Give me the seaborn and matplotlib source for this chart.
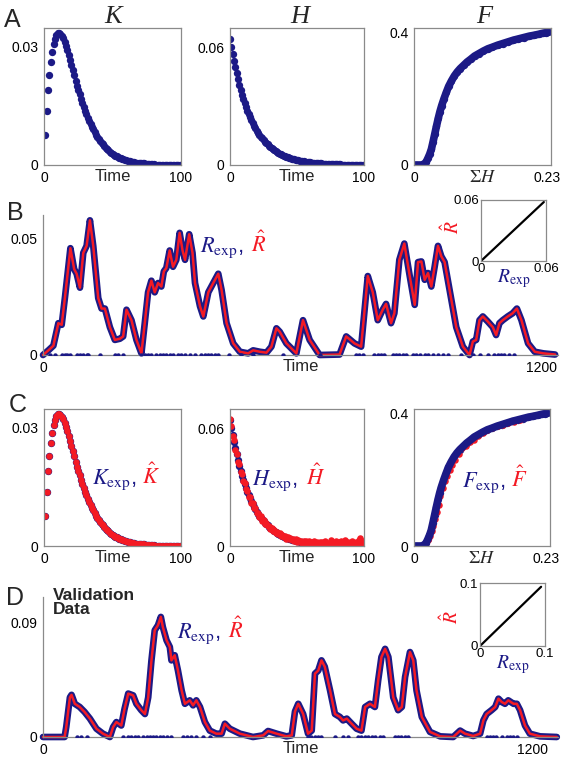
import matplotlib
matplotlib.use("Agg")
import matplotlib.pyplot as plt
import numpy as np
import pandas as pd
import seaborn as sns

# ---- data ----
t_k = list(range(1, 101))
k_vals = [
    .0076, .0138, .0190, .0229, .0261, .0286, .0306, .0320, .0329, .0334,
    .0335, .0333, .0328, .0321, .0312, .0302, .0291, .0279, .0266, .0253,
    .0240, .0227, .0214, .0201, .0190, .0179, .0168, .0158, .0148, .0138,
    .0129, .0120, .0112, .0104, .0097, .0090, .0083, .0077, .0071, .0066,
    .0061, .0056, .0052, .0048, .0044, .0040, .0037, .0034, .0031, .0029,
    .0026, .0024, .0022, .0020, .0018, .0017, .0015, .0014, .0013, .0012,
    .0011, .0010, .0009, .0008, .0008, .0007, .0006, .0006, .0005, .0005,
    .0004, .0004, .0004, .0003, .0003, .0003, .0002, .0002, .0002, .0002,
    .0001, .0001, .0001, .0001, .0001, .0001, .0001, .0001, .0001, .0001,
    .0001, .0001, .0001, .0001, .0001, .0000, .0000, .0000, .0000, .0000,
]

t_h = list(range(0, 101))
h_vals = [
    .0646, .0605, .0566, .0532, .0499, .0468, .0438, .0410, .0384, .0360,
    .0337, .0316, .0296, .0277, .0260, .0243, .0228, .0214, .0200, .0188,
    .0176, .0165, .0154, .0145, .0136, .0127, .0119, .0112, .0105, .0098,
    .0092, .0086, .0081, .0076, .0071, .0066, .0062, .0058, .0055, .0051,
    .0048, .0045, .0042, .0040, .0037, .0035, .0033, .0031, .0029, .0027,
    .0025, .0024, .0022, .0021, .0019, .0018, .0017, .0016, .0015, .0014,
    .0013, .0012, .0011, .0011, .0010, .0009, .0009, .0008, .0008, .0007,
    .0007, .0006, .0006, .0005, .0005, .0005, .0004, .0004, .0004, .0003,
    .0003, .0003, .0003, .0002, .0002, .0002, .0002, .0002, .0002, .0001,
    .0001, .0001, .0001, .0001, .0001, .0001, .0001, .0001, .0001, .0001,
    .0001,
]
h_hat = [
    .0650, .0612, .0560, .0540, .0490, .0472, .0430, .0418, .0378, .0368,
    .0330, .0322, .0290, .0283, .0252, .0248, .0222, .0219, .0195, .0193,
    .0170, .0168, .0150, .0151, .0130, .0132, .0110, .0117, .0100, .0103,
    .0088, .0092, .0078, .0084, .0068, .0074, .0060, .0064, .0050, .0058,
    .0046, .0052, .0038, .0047, .0036, .0040, .0030, .0036, .0026, .0034,
    .0022, .0030, .0020, .0028, .0016, .0026, .0014, .0024, .0012, .0025,
    .0010, .0022, .0008, .0024, .0014, .0020, .0006, .0022, .0010, .0018,
    .0008, .0024, .0004, .0016, .0010, .0030, .0004, .0020, .0008, .0026,
    .0006, .0018, .0002, .0028, .0010, .0016, .0030, .0004, .0020, .0012,
    .0008, .0026, .0014, .0004, .0022, .0010, .0030, .0040, .0016, .0024,
    .0008,
]

sum_h = [0, .003, .006, .009, .012, .015, .018, .021, .024, .027, .030, .033,
         .036, .039, .042, .045, .048, .052, .056, .060, .065, .070, .075, .080,
         .086, .092, .098, .105, .112, .120, .128, .136, .145, .154, .163, .172,
         .181, .190, .199, .208, .216, .223, .229, .233]
f_vals = [0, 0, 0, 0, 0, .001, .004, .009, .020, .032, .047, .070,
          .094, .118, .141, .162, .180, .201, .220, .238, .255, .270, .282, .292,
          .302, .312, .320, .330, .337, .345, .352, .357, .363, .368, .373, .378,
          .382, .386, .390, .393, .396, .399, .401, .402]
sum_h_hat = [0, .004, .008, .012, .016, .020, .024, .028, .031, .034, .037, .040,
             .043, .046, .050, .054, .058, .062, .067, .072, .078, .084, .090, .097,
             .104, .112, .120, .128, .137, .146, .155, .165, .175, .185]
f_hat = [0, 0, 0, .001, .003, .008, .018, .030, .046, .060, .082, .104,
         .124, .150, .176, .196, .212, .230, .246, .262, .278, .296, .303, .314,
         .322, .333, .343, .350, .357, .362, .367, .372, .377, .382]

t_b = [0, 13, 25, 37, 45, 53, 66, 75, 81, 89, 97, 105, 113, 121, 133, 141, 149,
       161, 173, 185, 193, 201, 213, 225, 237, 245, 253, 261, 269, 277, 285, 291,
       297, 305, 313, 321, 329, 336, 342, 352, 360, 366, 378, 386, 398, 410, 422,
       430, 442, 458, 474, 494, 506, 522, 538, 550, 562, 570, 586, 610, 626, 642,
       666, 714, 730, 750, 766, 782, 794, 806, 818, 826, 838, 846, 858, 870, 883,
       895, 903, 911, 919, 927, 935, 943, 951, 959, 967, 979, 995, 1011, 1027,
       1035, 1043, 1051, 1059, 1071, 1083, 1091, 1099, 1107, 1119, 1131, 1141,
       1152, 1168, 1184, 1205, 1233]
r_b = [0, .002, .004, .0137, .013, .025, .046, .037, .035, .029, .044, .047,
       .058, .047, .0245, .020, .020, .012, .0065, .007, .008, .0195, .015,
       .0065, .0007, .0137, .027, .032, .027, .031, .0295, .036, .0375, .045,
       .038, .041, .0526, .045, .041, .052, .044, .031, .021, .0166, .027, .031,
       .035, .028, .0137, .005, .0014, .0007, .002, .0014, .001, .0036, .0115,
       .010, .005, .0007, .015, .0065, 0, .0002, .008, .005, .0036, .034, .027,
       .015, .0195, .022, .0137, .018, .041, .048, .034, .0216, .040, .0403,
       .0324, .0353, .0295, .038, .047, .0425, .040, .028, .012, .0036, 0,
       .0058, .0065, .015, .0166, .0144, .012, .0086, .0137, .015, .0166, .018,
       .020, .015, .005, .0014, .0007, .0002]
events_b = [17, 29, 45, 53, 57, 65, 81, 89, 97, 105, 109, 137, 173, 181, 193,
            237, 245, 253, 261, 273, 281, 289, 297, 305, 313, 325, 333, 341, 353,
            365, 381, 389, 397, 405, 413, 421, 449, 477, 505, 578, 666, 754, 762,
            770, 798, 806, 814, 822, 842, 850, 858, 866, 874, 891, 899, 907, 919,
            927, 939, 951, 963, 975, 1007, 1035, 1051, 1071, 1087, 1095, 1103,
            1111, 1123, 1135]

t_d = [0, 53, 57, 66, 70, 78, 90, 102, 115, 131, 147, 164, 172, 180, 192, 200,
       209, 221, 229, 241, 250, 258, 266, 274, 282, 289, 294, 303, 311, 315, 323,
       331, 340, 348, 360, 368, 376, 385, 397, 409, 425, 438, 446, 458, 483, 515,
       540, 552, 573, 597, 610, 618, 626, 638, 650, 659, 667, 675, 683, 691, 704,
       716, 728, 736, 745, 757, 769, 781, 790, 802, 814, 822, 830, 839, 847, 859,
       871, 880, 888, 900, 908, 916, 929, 949, 974, 1006, 1023, 1035, 1055, 1072,
       1080, 1088, 1100, 1109, 1117, 1125, 1133, 1141, 1154, 1162, 1170, 1182,
       1194, 1219, 1260]
r_d = [0, 0, .0078, .031, .033, .026, .0235, .0196, .0144, .0065, .0026, 0,
       .0078, .0117, .009, .022, .034, .0326, .026, .021, .018, .031, .060,
       .0835, .0875, .094, .086, .0757, .0705, .060, .064, .052, .0365, .026,
       .0287, .0248, .0287, .0235, .0117, .005, .0026, .0026, .0104, .0065,
       .0026, 0, .0013, .0047, .0026, .0005, .0013, .020, .026, .018, .0026,
       .005, .0496, .052, .060, .055, .0365, .018, .0157, .013, .0144, .0104,
       .0065, .005, .0235, .026, .0235, .0444, .0626, .069, .0626, .031, .021,
       .0235, .047, .0665, .060, .0365, .0157, .004, .0005, 0, .005, .0026,
       .0008, .0026, .013, .018, .021, .0235, .030, .0274, .026, .0287, .026,
       .026, .021, .009, .0026, .0005, 0]
events_d = [84, 94, 108, 196, 209, 217, 225, 233, 245, 254, 262, 270, 278, 286,
            295, 303, 315, 344, 352, 364, 376, 393, 409, 650, 658, 667, 675, 683,
            716, 736, 749, 773, 781, 790, 798, 806, 814, 826, 835, 863, 871, 879,
            888, 896, 1088, 1096, 1104, 1112, 1125, 1137, 1145, 1153, 1162]

NAVY = "#1c1a86"
RED = "#f41a24"
GRAY = "#8a8a8a"
W, H = 567, 763


def box(l, t, r, b):
    return [l / W, 1 - b / H, (r - l) / W, (b - t) / H]


def fxy(x, y):
    return (x / W, 1 - y / H)


def style_axes(ax, full=True, size=10):
    for name, sp in ax.spines.items():
        sp.set_color(GRAY)
        sp.set_linewidth(0.9)
        if not full and name in ("top", "right"):
            sp.set_visible(False)
    ax.tick_params(direction="out", length=2.5, width=0.8, color=GRAY,
                   labelsize=size, pad=1.5, labelcolor="black")
    ax.grid(False)


def two_color(x, y, blue, red, gap=51, size=16):
    fig.text(*fxy(x, y), blue, color=NAVY, fontsize=size, va="baseline")
    fig.text(*fxy(x + gap, y), red, color=RED, fontsize=size, va="baseline")


sns.set_theme(style="white")
plt.rcParams["font.family"] = ["Liberation Sans", "DejaVu Sans"]
plt.rcParams["mathtext.fontset"] = "stix"

fig = plt.figure(figsize=(W / 100, H / 100), dpi=100)

dot = dict(s=28, linewidth=0, legend=False)
red_dot = dict(s=22, linewidth=0, legend=False)


def panel_k(rect, hat):
    ax = fig.add_axes(box(*rect))
    sns.scatterplot(x=t_k, y=k_vals, color=NAVY, ax=ax, **dot)
    if hat:
        sns.scatterplot(x=t_k, y=k_vals, color=RED, ax=ax, **red_dot)
    ax.set_xlim(0, 100)
    ax.set_ylim(0, 0.0347)
    ax.set_xticks([0, 100])
    ax.set_yticks([0, 0.03], ["0", "0.03"])
    ax.set_xlabel("Time", fontsize=12, labelpad=-11)
    style_axes(ax)
    return ax


def panel_h(rect, hat):
    ax = fig.add_axes(box(*rect))
    sns.scatterplot(x=t_h, y=h_vals, color=NAVY, ax=ax, **dot)
    if hat:
        sns.scatterplot(x=t_h, y=h_hat, color=RED, ax=ax, **red_dot)
    ax.set_xlim(0, 100)
    ax.set_ylim(0, 0.07)
    ax.set_xticks([0, 100])
    ax.set_yticks([0, 0.06], ["0", "0.06"])
    ax.set_xlabel("Time", fontsize=12, labelpad=-11)
    style_axes(ax)
    return ax


def panel_f(rect, hat):
    ax = fig.add_axes(box(*rect))
    sns.lineplot(x=sum_h, y=f_vals, color=NAVY, lw=5.5, sort=False,
                 estimator=None, ax=ax)
    sns.scatterplot(x=sum_h, y=f_vals, color=NAVY, ax=ax, **dot)
    if hat:
        sns.scatterplot(x=sum_h_hat, y=f_hat, color=RED, ax=ax, **red_dot)
    ax.set_xlim(0, 0.2375)
    ax.set_ylim(0, 0.415)
    ax.set_xticks([0, 0.23], ["0", "0.23"])
    ax.set_yticks([0, 0.4], ["0", "0.4"])
    ax.set_xlabel(r"$\Sigma H$", fontsize=13, labelpad=-11)
    style_axes(ax)
    return ax


def panel_r(rect, t, r, events, ylim, ytick, xlim):
    ax = fig.add_axes(box(*rect))
    sns.lineplot(x=t, y=r, color=NAVY, lw=4.8, sort=False, estimator=None,
                 ax=ax)
    sns.lineplot(x=t, y=r, color=RED, lw=1.8, sort=False, estimator=None, ax=ax)
    sns.scatterplot(x=events, y=[0] * len(events), color=NAVY, s=10,
                    linewidth=0, legend=False, ax=ax, zorder=3)
    ax.set_xlim(0, xlim)
    ax.set_ylim(0, ylim)
    ax.set_xticks([0, 1200])
    ax.set_yticks([0, ytick], ["0", str(ytick)])
    ax.set_xlabel("Time", fontsize=12, labelpad=-11)
    style_axes(ax, full=False)
    for line in ax.lines:
        line.set_clip_on(False)
    return ax


def inset(rect, r, lim, lab, xlab_y, ylab_y):
    ax = fig.add_axes(box(*rect))
    sns.lineplot(x=r, y=r, color="black", lw=1.6, sort=True, estimator=None,
                 ax=ax)
    ax.set_xlim(0, lim)
    ax.set_ylim(0, lim)
    ax.set_xticks([0, lim], ["0", lab])
    ax.set_yticks([0, lim], ["0", lab])
    style_axes(ax, size=9.5)
    ax.tick_params(length=0)
    ax.set_xlabel(r"$R_{\rm exp}$", color=NAVY, fontsize=14)
    ax.set_ylabel(r"$\hat{R}$", color=RED, fontsize=14)
    ax.xaxis.set_label_coords(0.5, xlab_y)
    ax.yaxis.set_label_coords(-0.27, ylab_y)
    return ax


# Row A
panel_k((44, 28, 181, 165), False)
panel_h((230, 28, 364, 165), False)
panel_f((414, 28, 551, 165), False)
for x, s in [(113, "K"), (300, "H"), (484, "F")]:
    fig.text(*fxy(x, 23), s, fontsize=19, family="Liberation Serif",
             style="italic", ha="center", va="baseline")

# Row B
panel_r((43, 215, 558, 355), t_b, r_b, events_b, 0.0603, 0.05, 1240)
inset((481, 200, 546, 261), r_b, 0.06, "0.06", -0.1, 0.55)
two_color(200, 252, r"$R_{\rm exp}$,", r"$\hat{R}$")

# Row C
panel_k((44, 409, 181, 546), True)
panel_h((230, 409, 364, 546), True)
panel_f((414, 409, 550, 546), True)
two_color(92, 484, r"$K_{\rm exp}$,", r"$\hat{K}$", gap=50)
two_color(252, 485, r"$H_{\rm exp}$,", r"$\hat{H}$", gap=54)
two_color(462, 487, r"$F_{\rm exp}$,", r"$\hat{F}$", gap=49)

# Row D
panel_r((43, 597, 558, 737), t_d, r_d, events_d, 0.1096, 0.09, 1263)
inset((480, 583, 545, 646), r_d, 0.1, "0.1", -0.12, 0.46)
two_color(177, 638, r"$R_{\rm exp}$,", r"$\hat{R}$")
fig.text(*fxy(53, 614), "Validation\nData", fontsize=12.5, fontweight="bold",
         va="baseline", linespacing=0.95)

for x, y, s in [(4, 27, "A"), (7, 220, "B"), (9, 412, "C"), (6, 605, "D")]:
    fig.text(*fxy(x, y), s, fontsize=18, va="baseline")

fig.savefig("out.png", dpi=100)
